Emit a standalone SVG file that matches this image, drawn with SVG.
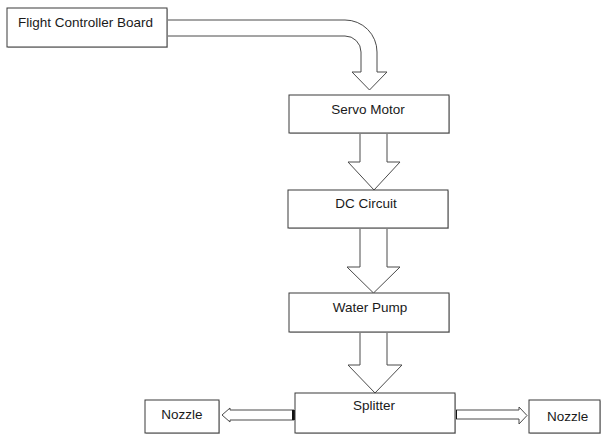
<svg xmlns="http://www.w3.org/2000/svg" width="601" height="437" viewBox="0 0 601 437">
<defs>
<style>
.box{fill:#ffffff;stroke:#3a3a3a;stroke-width:1}
.sh{fill:#c8c8c8;stroke:none}
.arr{fill:#ffffff;stroke:#4a4a4a;stroke-width:1;stroke-linejoin:miter}
.t{font-family:"Liberation Sans",Arial,sans-serif;font-size:13.5px;fill:#1a1a1a}
.c{text-anchor:middle}
.blk{fill:#111111}
</style>
</defs>
<rect width="601" height="437" fill="#ffffff"/>
<g id="connectors">
<path class="arr" d="M167,20 H345 A32,32 0 0 1 377,52 V72 H387 L369.5,90 L352,72 H361 V52 A16,16 0 0 0 345,36 H167"/>
<path class="arr" d="M360,133 V162 H348 L374,190 L400,162 H387 V133"/>
<path class="arr" d="M360,228 V267 H347 L373.5,293 L400,267 H387 V228"/>
<path class="arr" d="M360,332 V365 H348 L375,393 L402,365 H387 V332"/>
<path class="arr" d="M294,410 H230 V408 L222,415 L230,422 V420 H294 Z"/>
<rect class="blk" x="292" y="410" width="3" height="10"/>
<path class="arr" d="M455,410 H519 V407 L527,415.5 L519,424 V419 H455 Z"/>
<rect class="blk" x="454" y="410" width="3" height="9"/>
</g>
<g id="flight-controller">
<rect class="sh" x="8" y="9" width="160" height="39"/>
<rect class="box" x="7" y="8" width="160" height="39"/>
<text class="t" x="18" y="27">Flight Controller Board</text>
</g>
<g id="servo-motor">
<rect class="sh" x="290" y="96" width="160" height="38"/>
<rect class="box" x="289" y="95" width="160" height="38"/>
<text class="t c" x="368" y="114">Servo Motor</text>
</g>
<g id="dc-circuit">
<rect class="sh" x="289" y="191" width="160" height="38"/>
<rect class="box" x="288" y="190" width="160" height="38"/>
<text class="t c" x="366" y="208">DC Circuit</text>
</g>
<g id="water-pump">
<rect class="sh" x="290" y="294" width="160" height="39"/>
<rect class="box" x="289" y="293" width="160" height="39"/>
<text class="t c" x="370" y="312">Water Pump</text>
</g>
<g id="splitter">
<rect class="sh" x="296" y="394" width="160" height="40"/>
<rect class="box" x="295" y="393" width="160" height="40"/>
<text class="t" x="353" y="410">Splitter</text>
</g>
<g id="nozzle-left">
<rect class="sh" x="146" y="401" width="74" height="33"/>
<rect class="box" x="145" y="400" width="74" height="33"/>
<text class="t c" x="182" y="419">Nozzle</text>
</g>
<g id="nozzle-right">
<rect class="sh" x="530" y="401" width="71" height="33"/>
<rect class="box" x="529" y="400" width="71" height="33"/>
<text class="t" x="547" y="421">Nozzle</text>
</g>
</svg>
